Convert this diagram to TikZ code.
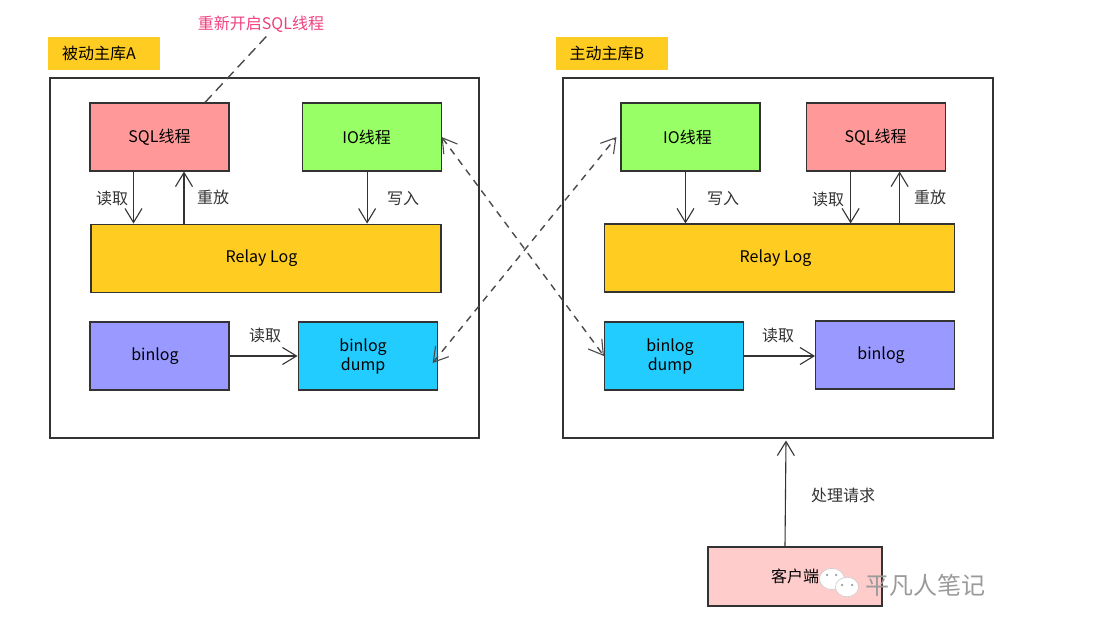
\documentclass[tikz,border=0pt]{standalone}
\usepackage{fontspec}
\setmainfont{Noto Sans CJK SC}
\usetikzlibrary{
  shapes.geometric,
  arrows.meta,
  positioning
}
\definecolor{LineGrey}{HTML}{333333}
\definecolor{DashGrey}{HTML}{4A4A4A}
\definecolor{SqlPink}{HTML}{FF9999}
\definecolor{IoGreen}{HTML}{99FF66}
\definecolor{LogGold}{HTML}{FFCC22}
\definecolor{BinPurple}{HTML}{9999FF}
\definecolor{DumpCyan}{HTML}{22CCFF}
\definecolor{ClientPink}{HTML}{FFCCCC}
\definecolor{NoteRose}{HTML}{F0407F}
\definecolor{MarkGrey}{HTML}{9A9A9A}
\tikzset{
  % Outer server frame
  frame/.style={
    rectangle, draw=LineGrey, line width=1.1pt, fill=white,
    minimum width=#1, minimum height=360pt, inner sep=0pt
  },
  % Gold title tag
  tag/.style={
    rectangle, fill=LogGold,
    minimum width=112pt, minimum height=33pt, inner sep=0pt,
    font=\fontsize{16}{18}\selectfont
  },
  % Coloured box
  box/.style={
    rectangle, draw=LineGrey, line width=1.1pt, fill=#1,
    minimum width=139pt, minimum height=68pt, inner sep=0pt,
    align=center, font=\fontsize{16}{19}\selectfont
  },
  % Arrow with open head
  arr/.style={
    -{Straight Barb[length=14pt,width=17pt,line width=1.1pt]},
    line width=1.1pt, color=LineGrey
  },
  % Dashed link, both ends open
  link/.style={
    {Straight Barb[length=14pt,width=17pt,line width=1.1pt]}-{Straight Barb[length=14pt,width=17pt,line width=1.1pt]},
    line width=1.4pt, color=DashGrey, dash pattern=on 7pt off 6pt
  },
  % Edge label
  lbl/.style={font=\fontsize{16}{18}\selectfont, color=LineGrey},
  % Watermark bubble
  bubble/.style={
    ellipse, draw=MarkGrey!50, line width=0.6pt, fill=white, inner sep=0pt,
    minimum width=#1, minimum height=0.85*#1
  },
  eye/.style={circle, fill=MarkGrey, inner sep=0pt, minimum size=2.5pt}
}
\begin{document}
\begin{tikzpicture}[x=1pt,y=-1pt]
  \useasboundingbox (0,0) rectangle (1112,626);

  % Frames and title tags
  \node[frame=429pt] (frameA) at (264.5,258) {};
  \node[frame=430pt] (frameB) at (778,258) {};
  \node[tag] (tagA) at (104,53.5) {被动主库A\kern10pt};
  \node[tag] (tagB) at (611.5,53.5) {主动主库B\kern9pt};

  % Passive master A
  \node[box=SqlPink] (sqlA) at (159.5,137) {SQL线程};
  \node[box=IoGreen, right=72pt of sqlA] (ioA) {IO线程\kern10pt};
  \node[box=LogGold, minimum width=350pt, below right=52pt and 1pt of sqlA.south west] (relayA) {Relay Log\kern9pt};
  \node[box=BinPurple, at={(159.5,356)}] (binlogA) {binlog\kern9pt};
  \node[box=DumpCyan, right=68pt of binlogA] (dumpA) {binlog\kern9pt\\dump\kern9pt};

  % Active master B
  \node[box=IoGreen] (ioB) at (690.5,137) {IO线程\kern6pt};
  \node[box=SqlPink, right=45pt of ioB] (sqlB) {SQL线程};
  \node[box=LogGold, minimum width=350pt, at={(779.5,258)}] (relayB) {Relay Log\kern8pt};
  \node[box=DumpCyan, at={(674,356)}] (dumpB) {binlog\kern8pt\\dump\kern8pt};
  \node[box=BinPurple, right=71pt of dumpB, yshift=1pt] (binlogB) {binlog\kern8pt};

  % Client
  \node[box=ClientPink, minimum width=174pt, minimum height=59pt] (client) at (795,576.5) {客户端};

  % Labels
  \node[lbl, text=NoteRose] (restart) at (261,24) {重新开启SQL线程};
  \node[lbl] (readA)  at (112,198) {读取};
  \node[lbl] (playA)  at (213,197) {重放};
  \node[lbl] (writeA) at (403,199) {写入};
  \node[lbl] (copyA)  at (265,335) {读取};
  \node[lbl] (writeB) at (723,199) {写入};
  \node[lbl] (readB)  at (828,199) {读取};
  \node[lbl] (playB)  at (930,197) {重放};
  \node[lbl] (copyB)  at (778,335) {读取};
  \node[lbl] (serve)  at (843,495) {处理请求};

  % Arrows inside A
  \draw[arr] ([xshift=-26pt]sqlA.south) -- ([xshift=-26pt]sqlA.south |- relayA.north);
  \draw[arr] ([xshift=24.5pt]sqlA.south |- relayA.north) -- ([xshift=24.5pt]sqlA.south);
  \draw[arr] ([xshift=-4.5pt]ioA.south) -- ([xshift=-4.5pt]ioA.south |- relayA.north);
  \draw[arr] (binlogA.east) -- (dumpA.west);

  % Arrows inside B
  \draw[arr] ([xshift=-5pt]ioB.south) -- ([xshift=-5pt]ioB.south |- relayB.north);
  \draw[arr] ([xshift=-25pt]sqlB.south) -- ([xshift=-25pt]sqlB.south |- relayB.north);
  \draw[arr] ([xshift=24pt]sqlB.south |- relayB.north) -- ([xshift=24pt]sqlB.south);
  \draw[arr] (dumpB.east) -- (dumpB.east -| binlogB.west);

  % Replication links across the frames
  \draw[link] (ioA.east) -- (dumpB.west);
  \draw[link] ([shift={(-5pt,-7pt)}]dumpA.east) -- ([xshift=-4pt]ioB.west);

  % Restart note and client request
  \draw[color=DashGrey, line width=1.4pt, dash pattern=on 10pt off 6pt] ([xshift=45.5pt]sqlA.north) -- ([xshift=6pt]restart.south);
  \draw[arr] ([xshift=-10pt]client.north) -- ([shift={(8pt,-2pt)}]frameB.south);

  % Watermark
  \node[bubble=25pt] (bubbleL) at (832,579) {};
  \node[bubble=23pt] (bubbleR) at (847,587) {};
  \node[eye] (eyeLa) at (827,575) {};
  \node[eye] (eyeLb) at (836,575) {};
  \node[eye] (eyeRa) at (842,585) {};
  \node[eye] (eyeRb) at (852,585) {};
  \node[font=\fontsize{24}{26}\selectfont, text=MarkGrey] (mark) at (925,585) {平凡人笔记};
\end{tikzpicture}
\end{document}
